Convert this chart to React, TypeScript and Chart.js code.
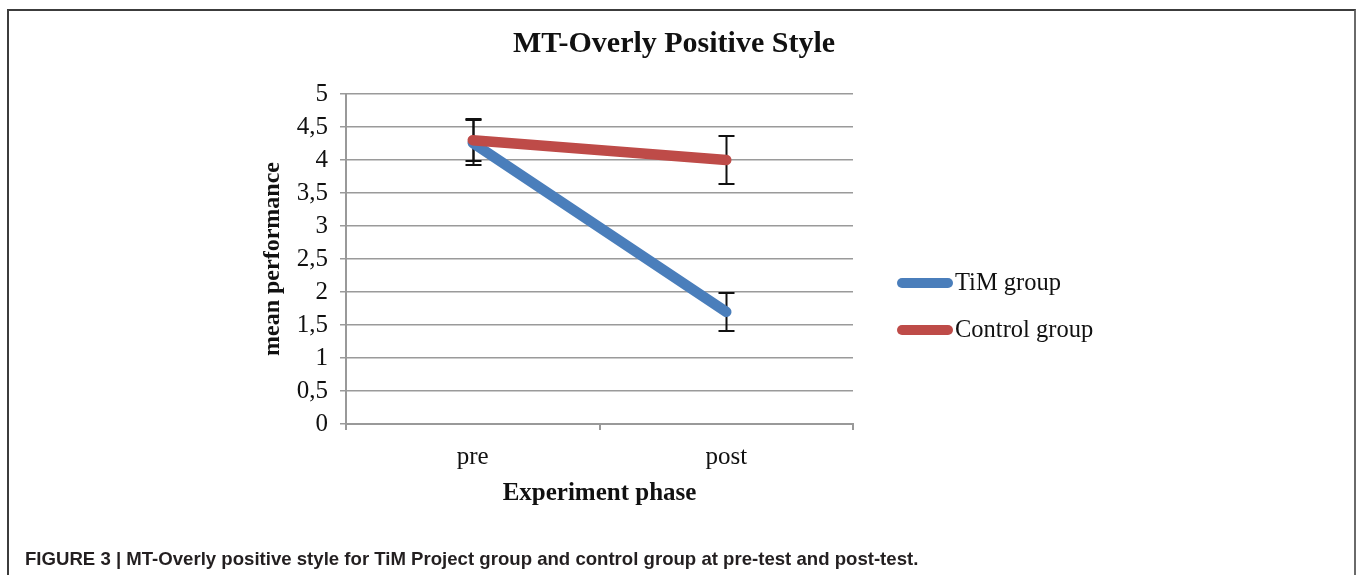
import React, { useEffect, useRef } from 'react';
import { Chart, registerables } from 'chart.js';

Chart.register(...registerables);

const chartTitle = 'MT-Overly Positive Style';
const yAxisTitle = 'mean performance';
const xAxisTitle = 'Experiment phase';
const caption =
  'FIGURE 3 | MT-Overly positive style for TiM Project group and control group at pre-test and post-test.';

const categories = ['pre', 'post'];
const seriesLabels = ['TiM group', 'Control group'];
const timValues = [4.26, 1.7];
const timErrors = [0.34, 0.29];
const controlValues = [4.3, 4.0];
const controlErrors = [0.32, 0.37];
const yTickLabels = ['0', '0,5', '1', '1,5', '2', '2,5', '3', '3,5', '4', '4,5', '5'];

const SERIF = "'Liberation Serif', 'Times New Roman', Times, serif";
const W = 1358;
const H = 575;

const errorBarPlugin = {
  id: 'errorBars',
  beforeDatasetsDraw(chart: any) {
    const { ctx, scales } = chart;
    const xs = scales.x;
    const ys = scales.y;
    ctx.save();
    ctx.strokeStyle = '#111';
    ctx.lineWidth = 2;
    chart.data.datasets.forEach((ds: any) => {
      const errs: number[] = ds.errorBars || [];
      ds.data.forEach((v: number, i: number) => {
        const e = errs[i];
        if (e == null) return;
        const x = Math.round(xs.getPixelForValue(i)) + 0.5;
        const yt = Math.round(ys.getPixelForValue(v + e));
        const yb = Math.round(ys.getPixelForValue(v - e));
        ctx.beginPath();
        ctx.moveTo(x, yt);
        ctx.lineTo(x, yb);
        ctx.moveTo(x - 8, yt);
        ctx.lineTo(x + 8, yt);
        ctx.moveTo(x - 8, yb);
        ctx.lineTo(x + 8, yb);
        ctx.stroke();
      });
    });
    ctx.restore();
  },
};

const decorPlugin = {
  id: 'decor',
  afterDraw(chart: any) {
    const { ctx, chartArea } = chart;
    ctx.save();
    // title
    ctx.fillStyle = '#111';
    ctx.font = `bold 30px ${SERIF}`;
    ctx.textAlign = 'center';
    ctx.textBaseline = 'middle';
    ctx.fillText(chartTitle, 674, 44);
    // legend
    const midY = (chartArea.top + chartArea.bottom) / 2;
    const lx = chartArea.right + 49;
    ctx.textAlign = 'left';
    ctx.font = `24.5px ${SERIF}`;
    chart.data.datasets.forEach((ds: any, i: number) => {
      const y = midY + 24 + i * 47;
      ctx.strokeStyle = ds.borderColor;
      ctx.lineWidth = 10;
      ctx.lineCap = 'round';
      ctx.beginPath();
      ctx.moveTo(lx, y);
      ctx.lineTo(lx + 46, y);
      ctx.stroke();
      ctx.fillStyle = '#111';
      ctx.fillText(ds.label, lx + 53, y + 1);
    });
    ctx.restore();
  },
};

export default function App() {
  const ref = useRef<HTMLCanvasElement | null>(null);

  useEffect(() => {
    if (!ref.current) return;
    const chart = new Chart(ref.current, {
      type: 'line',
      data: {
        labels: categories,
        datasets: [
          {
            label: seriesLabels[0],
            data: timValues,
            errorBars: timErrors,
            borderColor: '#4a7ebb',
            backgroundColor: '#4a7ebb',
            borderWidth: 10.5,
            borderCapStyle: 'round',
            pointRadius: 0,
            order: 2,
          } as any,
          {
            label: seriesLabels[1],
            data: controlValues,
            errorBars: controlErrors,
            borderColor: '#be4b48',
            backgroundColor: '#be4b48',
            borderWidth: 10.5,
            borderCapStyle: 'round',
            pointRadius: 0,
            order: 1,
          } as any,
        ],
      },
      options: {
        responsive: false,
        animation: false,
        devicePixelRatio: 1,
        layout: { padding: { left: 0, top: 94, right: W - 853, bottom: 0 } },
        plugins: {
          legend: { display: false },
          title: { display: false },
          tooltip: { enabled: false },
        },
        scales: {
          x: {
            type: 'category',
            offset: true,
            afterFit: (s: any) => {
              s.height = H - 424;
            },
            grid: {
              offset: true,
              drawOnChartArea: false,
              drawTicks: true,
              tickLength: 6,
              color: '#999',
              lineWidth: 2,
            },
            border: { display: true, color: '#999', width: 2 },
            ticks: {
              font: { family: SERIF, size: 25 },
              color: '#111',
              padding: 12,
              maxRotation: 0,
            },
            title: {
              display: true,
              text: xAxisTitle,
              font: { family: SERIF, size: 25, weight: 'bold' },
              color: '#111',
              padding: { top: 0, bottom: 66 },
            },
          },
          y: {
            min: 0,
            max: 5,
            afterFit: (s: any) => {
              s.width = 346;
            },
            grid: {
              color: '#9a9a9a',
              lineWidth: 1.5,
              tickLength: 6,
            },
            border: { display: true, color: '#999', width: 2 },
            ticks: {
              stepSize: 0.5,
              font: { family: SERIF, size: 25 },
              color: '#111',
              padding: 12,
              callback: (_v: any, i: number) => yTickLabels[i],
            },
            title: {
              display: true,
              text: yAxisTitle,
              font: { family: SERIF, size: 24, weight: 'bold' },
              color: '#111',
              padding: { top: 258, bottom: 0 },
            },
          },
        },
      } as any,
      plugins: [errorBarPlugin, decorPlugin],
    });
    return () => chart.destroy();
  }, []);

  return (
    <div>
      <div
        style={{
          position: 'fixed',
          left: 7,
          top: 9,
          width: 1349,
          bottom: 0,
          borderTop: '2px solid #3c3c3c',
          borderLeft: '2px solid #3c3c3c',
          borderRight: '2px solid #6a6a6a',
          boxSizing: 'border-box',
        }}
      />
      <canvas
        ref={ref}
        width={W}
        height={H}
        style={{ position: 'fixed', left: 0, top: 0, width: W, height: H }}
      />
      <div
        style={{
          position: 'fixed',
          left: 25,
          top: 548,
          font: "bold 18.6px 'Liberation Sans', Arial, Helvetica, sans-serif",
          color: '#231f20',
          whiteSpace: 'nowrap',
        }}
      >
        {caption}
      </div>
    </div>
  );
}
